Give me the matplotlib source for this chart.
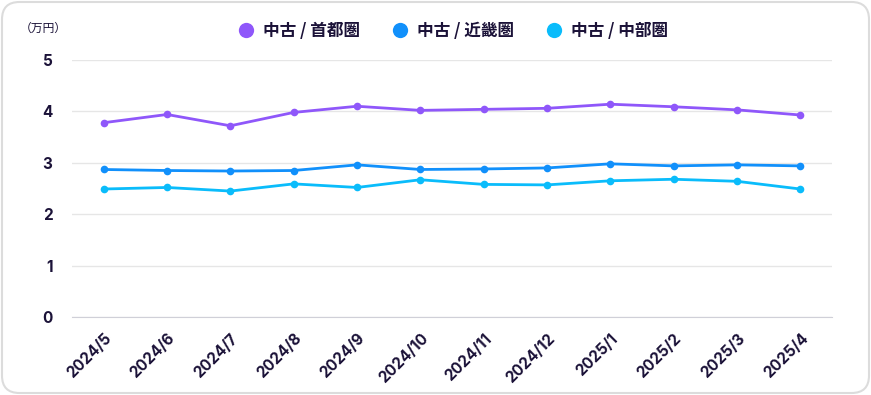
"""Used-property price trend by region (万円)."""

import matplotlib
matplotlib.use("Agg")
import matplotlib.pyplot as plt
from matplotlib.patches import FancyBboxPatch
from matplotlib.lines import Line2D

plt.rcParams["font.family"] = ["Inter", "Noto Sans CJK JP", "DejaVu Sans"]

months = ["2024/5", "2024/6", "2024/7", "2024/8", "2024/9", "2024/10",
          "2024/11", "2024/12", "2025/1", "2025/2", "2025/3", "2025/4"]
shutoken = [3.78, 3.94, 3.72, 3.98, 4.10, 4.02, 4.04, 4.06, 4.14, 4.09, 4.03, 3.93]
kinki = [2.87, 2.85, 2.84, 2.85, 2.96, 2.87, 2.88, 2.90, 2.98, 2.94, 2.96, 2.94]
chubu = [2.49, 2.52, 2.45, 2.59, 2.52, 2.67, 2.58, 2.57, 2.65, 2.68, 2.64, 2.49]

series = [
    ("中古 / 首都圏", shutoken, "#8f57fa"),
    ("中古 / 近畿圏", kinki, "#1190fb"),
    ("中古 / 中部圏", chubu, "#0abcfb"),
]
text_col = "#1b1238"
cjk = ["Noto Sans CJK JP", "DejaVu Sans"]

fig = plt.figure(figsize=(8.71, 3.95), dpi=100)
fig.patch.set_facecolor("white")
frame = FancyBboxPatch((2 / 871, 2 / 395), 867 / 871, 391 / 395,
                       boxstyle="round,pad=0,rounding_size=0.02",
                       transform=fig.transFigure, facecolor="none",
                       edgecolor="#dcdcdc", linewidth=1.5,
                       mutation_aspect=871 / 395, zorder=-1)
fig.patches.append(frame)

ax = fig.add_axes([72 / 871, 1 - 317 / 395, 760 / 871, 257 / 395])
ax.set_facecolor("none")
x = list(range(len(months)))
for name, vals, col in series:
    ax.plot(x, vals, color=col, linewidth=2, marker="o", markersize=5.5,
            markeredgewidth=0, label=name)

ax.set_xlim(-0.5, len(months) - 0.5)
ax.set_ylim(0, 5)
ax.set_yticks(range(6))
ax.set_yticklabels([str(v) for v in range(6)], fontsize=11, fontweight="bold",
                   color=text_col)
ax.set_xticks(x)
ax.set_xticklabels(months, rotation=45, ha="right", va="top",
                   rotation_mode="anchor", fontsize=11, fontweight="bold",
                   color=text_col)
ax.tick_params(axis="both", length=0)
ax.tick_params(axis="y", pad=14)
ax.tick_params(axis="x", pad=10)
ax.grid(axis="y", color="#e6e6e6", linewidth=1)
ax.set_axisbelow(True)
for side in ["top", "right", "left"]:
    ax.spines[side].set_visible(False)
ax.spines["bottom"].set_color("#d0d0d8")

fig.text(20 / 871, 1 - 28 / 395, "（万円）", fontsize=8.5, color=text_col,
         family=cjk, va="center", ha="left")

handles = [Line2D([], [], marker="o", linestyle="", markersize=11,
                  color=col, markeredgewidth=0) for _, _, col in series]
leg = fig.legend(handles, [s[0] for s in series], loc="center",
                 bbox_to_anchor=(452 / 871, 1 - 31 / 395), ncol=3, frameon=False,
                 handletextpad=0.4, columnspacing=1.8, handlelength=1.2,
                 prop={"family": cjk, "weight": "bold", "size": 12})
for t in leg.get_texts():
    t.set_color(text_col)

fig.savefig("out.png", dpi=100, facecolor="white")
